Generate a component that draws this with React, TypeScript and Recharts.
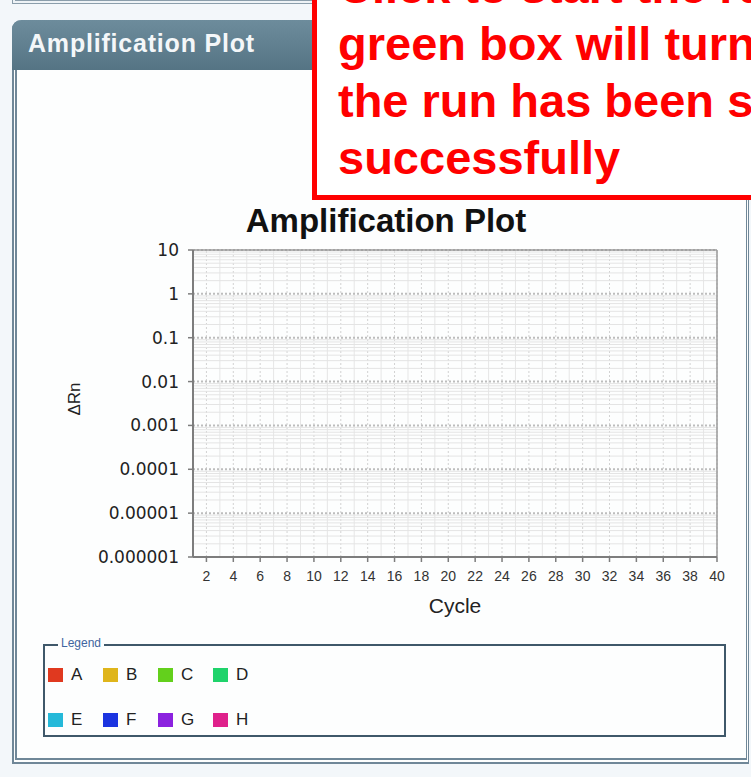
import React from 'react';
import { LineChart, Line, XAxis, YAxis, ReferenceLine } from 'recharts';

// Cycle numbers (x categories)
const cycles = [1, 2, 3, 4, 5, 6, 7, 8, 9, 10, 11, 12, 13, 14, 15, 16, 17, 18, 19, 20,
  21, 22, 23, 24, 25, 26, 27, 28, 29, 30, 31, 32, 33, 34, 35, 36, 37, 38, 39, 40];
const xTicks = [2, 4, 6, 8, 10, 12, 14, 16, 18, 20, 22, 24, 26, 28, 30, 32, 34, 36, 38, 40];
const yTicks = [0.000001, 0.00001, 0.0001, 0.001, 0.01, 0.1, 1, 10];
const yTickLabels = ['0.000001', '0.00001', '0.0001', '0.001', '0.01', '0.1', '1', '10'];
const minorMultipliers = [2, 3, 4, 5, 6, 7, 8, 9];

// Wells shown in the legend
const wellNames = ['A', 'B', 'C', 'D', 'E', 'F', 'G', 'H'];
const wellColors = ['#e0391f', '#dfb51b', '#63d01c', '#1fd36b', '#25b9d9', '#1b34e0', '#8b22df', '#df218b'];

// ΔRn readings per well — the run has not started yet, so no points are plotted
const wellA: (number | null)[] = [];
const wellB: (number | null)[] = [];
const wellC: (number | null)[] = [];
const wellD: (number | null)[] = [];
const wellE: (number | null)[] = [];
const wellF: (number | null)[] = [];
const wellG: (number | null)[] = [];
const wellH: (number | null)[] = [];
const wellValues = [wellA, wellB, wellC, wellD, wellE, wellF, wellG, wellH];

const calloutLines = ['Click to start the run. The', 'green box will turn', 'the run has been started', 'successfully'];

const data = cycles.map((c, i) => {
  const row: Record<string, number | null> = { cycle: c };
  wellNames.forEach((w, k) => {
    row[w] = wellValues[k][i] ?? null;
  });
  return row;
});

const minorY: number[] = [];
yTicks.slice(0, -1).forEach((d) => minorMultipliers.forEach((m) => minorY.push(m * d)));

const SANS = '"Liberation Sans", Arial, sans-serif';

export default function App() {
  return (
    <div style={{ position: 'absolute', left: 0, top: 0, width: 751, height: 777, overflow: 'hidden', background: '#f3f7fa', fontFamily: SANS }}>
      {/* previous panel bottom */}
      <div style={{ position: 'absolute', left: 12, top: -30, width: 736, height: 34, boxSizing: 'border-box', border: '4px double #8b9eab', background: '#eef3f6' }} />
      {/* panel body */}
      <div style={{ position: 'absolute', left: 12, top: 20, width: 737, height: 744, boxSizing: 'border-box', borderLeft: '5px double #6f8798', borderRight: '3px double #6f8798', borderBottom: '6px double #6f8798', background: '#fdfefe', borderTopLeftRadius: 9 }} />
      {/* header */}
      <div style={{ position: 'absolute', left: 12, top: 20, width: 737, height: 50, borderTopLeftRadius: 9, background: 'linear-gradient(#6d8c9c, #557484)' }} />
      <div style={{ position: 'absolute', left: 28, top: 31, fontSize: 25, lineHeight: 1, fontWeight: 'bold', color: '#f4f7f9', letterSpacing: 0.8, whiteSpace: 'nowrap' }}>Amplification Plot</div>

      {/* chart title */}
      <div style={{ position: 'absolute', left: 386, top: 204, transform: 'translateX(-50%)', fontSize: 33, lineHeight: 1, fontWeight: 'bold', color: '#111', whiteSpace: 'nowrap' }}>Amplification Plot</div>

      <div style={{ position: 'absolute', left: 0, top: 0 }}>
        <LineChart width={751} height={620} data={data} margin={{ top: 250, right: 34, bottom: 13, left: 113 }}>
          {cycles.map((c) => (
            <ReferenceLine key={'vx' + c} x={c} stroke={c % 2 === 0 ? '#d2d2d2' : '#e6e6e6'} strokeWidth={1} strokeDasharray={c % 2 === 0 ? '2 2' : undefined} />
          ))}
          {minorY.map((v, i) => (
            <ReferenceLine key={'my' + i} y={v} stroke="#e4e4e4" strokeWidth={1} />
          ))}
          {yTicks.map((v) => (
            <ReferenceLine key={'My' + v} y={v} stroke="#bdbdbd" strokeWidth={2} strokeDasharray="2 2" />
          ))}
          <ReferenceLine y={10} stroke="#9a9a9a" strokeWidth={1.5} />
          <ReferenceLine x={40} stroke="#9a9a9a" strokeWidth={1.5} />
          <XAxis
            dataKey="cycle"
            type="number"
            domain={[1, 40]}
            ticks={xTicks}
            interval={0}
            allowDataOverflow
            height={50}
            tickSize={5}
            tickMargin={9}
            axisLine={{ stroke: '#7d7d7d', strokeWidth: 2 }}
            tickLine={{ stroke: '#7d7d7d', strokeWidth: 1.5 }}
            tick={{ fill: '#333', fontSize: 14, fontFamily: SANS }}
          />
          <YAxis
            type="number"
            scale="log"
            domain={[0.000001, 10]}
            ticks={yTicks}
            interval={0}
            allowDataOverflow
            width={80}
            tickSize={5}
            tickMargin={9}
            axisLine={{ stroke: '#7d7d7d', strokeWidth: 2 }}
            tickLine={{ stroke: '#7d7d7d', strokeWidth: 1.5 }}
            tick={{ fill: '#222', fontSize: 17, fontFamily: '"DejaVu Sans", sans-serif' }}
            tickFormatter={(v: number) => yTickLabels[yTicks.indexOf(v)] ?? String(v)}
          />
          {wellNames.map((w, k) => (
            <Line key={w} dataKey={w} stroke={wellColors[k]} dot={false} isAnimationActive={false} connectNulls={false} />
          ))}
        </LineChart>
      </div>

      {/* axis titles */}
      <div style={{ position: 'absolute', left: 74, top: 399, transform: 'translate(-50%, -50%) rotate(-90deg)', fontSize: 17, lineHeight: 1, color: '#222', whiteSpace: 'nowrap' }}>ΔRn</div>
      <div style={{ position: 'absolute', left: 455, top: 595, transform: 'translateX(-50%)', fontSize: 21, lineHeight: 1, color: '#222', whiteSpace: 'nowrap' }}>Cycle</div>

      {/* legend box */}
      <div style={{ position: 'absolute', left: 43, top: 644, width: 683, height: 93, boxSizing: 'border-box', border: '2px solid #3f586a' }} />
      <div style={{ position: 'absolute', left: 58, top: 637, padding: '0 3px', background: '#fdfefe', fontSize: 12, lineHeight: 1, color: '#4065a0', whiteSpace: 'nowrap' }}>Legend</div>
      {wellNames.map((w, k) => {
        const col = k % 4;
        const row = Math.floor(k / 4);
        return (
          <div key={w} style={{ position: 'absolute', left: 48 + col * 55, top: 667 + row * 45, height: 15, display: 'flex', alignItems: 'center' }}>
            <div style={{ width: 15, height: 14, background: wellColors[k] }} />
            <div style={{ marginLeft: 8, fontSize: 17, lineHeight: 1, color: '#222' }}>{w}</div>
          </div>
        );
      })}

      {/* red callout */}
      <div style={{ position: 'absolute', left: 312, top: -60, width: 520, height: 260, boxSizing: 'border-box', border: '5px solid #ff0000', background: '#ffffff' }} />
      <div style={{ position: 'absolute', left: 338, top: -42, fontSize: 47, lineHeight: '57px', fontWeight: 'bold', color: '#ff0000', whiteSpace: 'nowrap' }}>
        {calloutLines.map((l) => (
          <div key={l}>{l}</div>
        ))}
      </div>
    </div>
  );
}
